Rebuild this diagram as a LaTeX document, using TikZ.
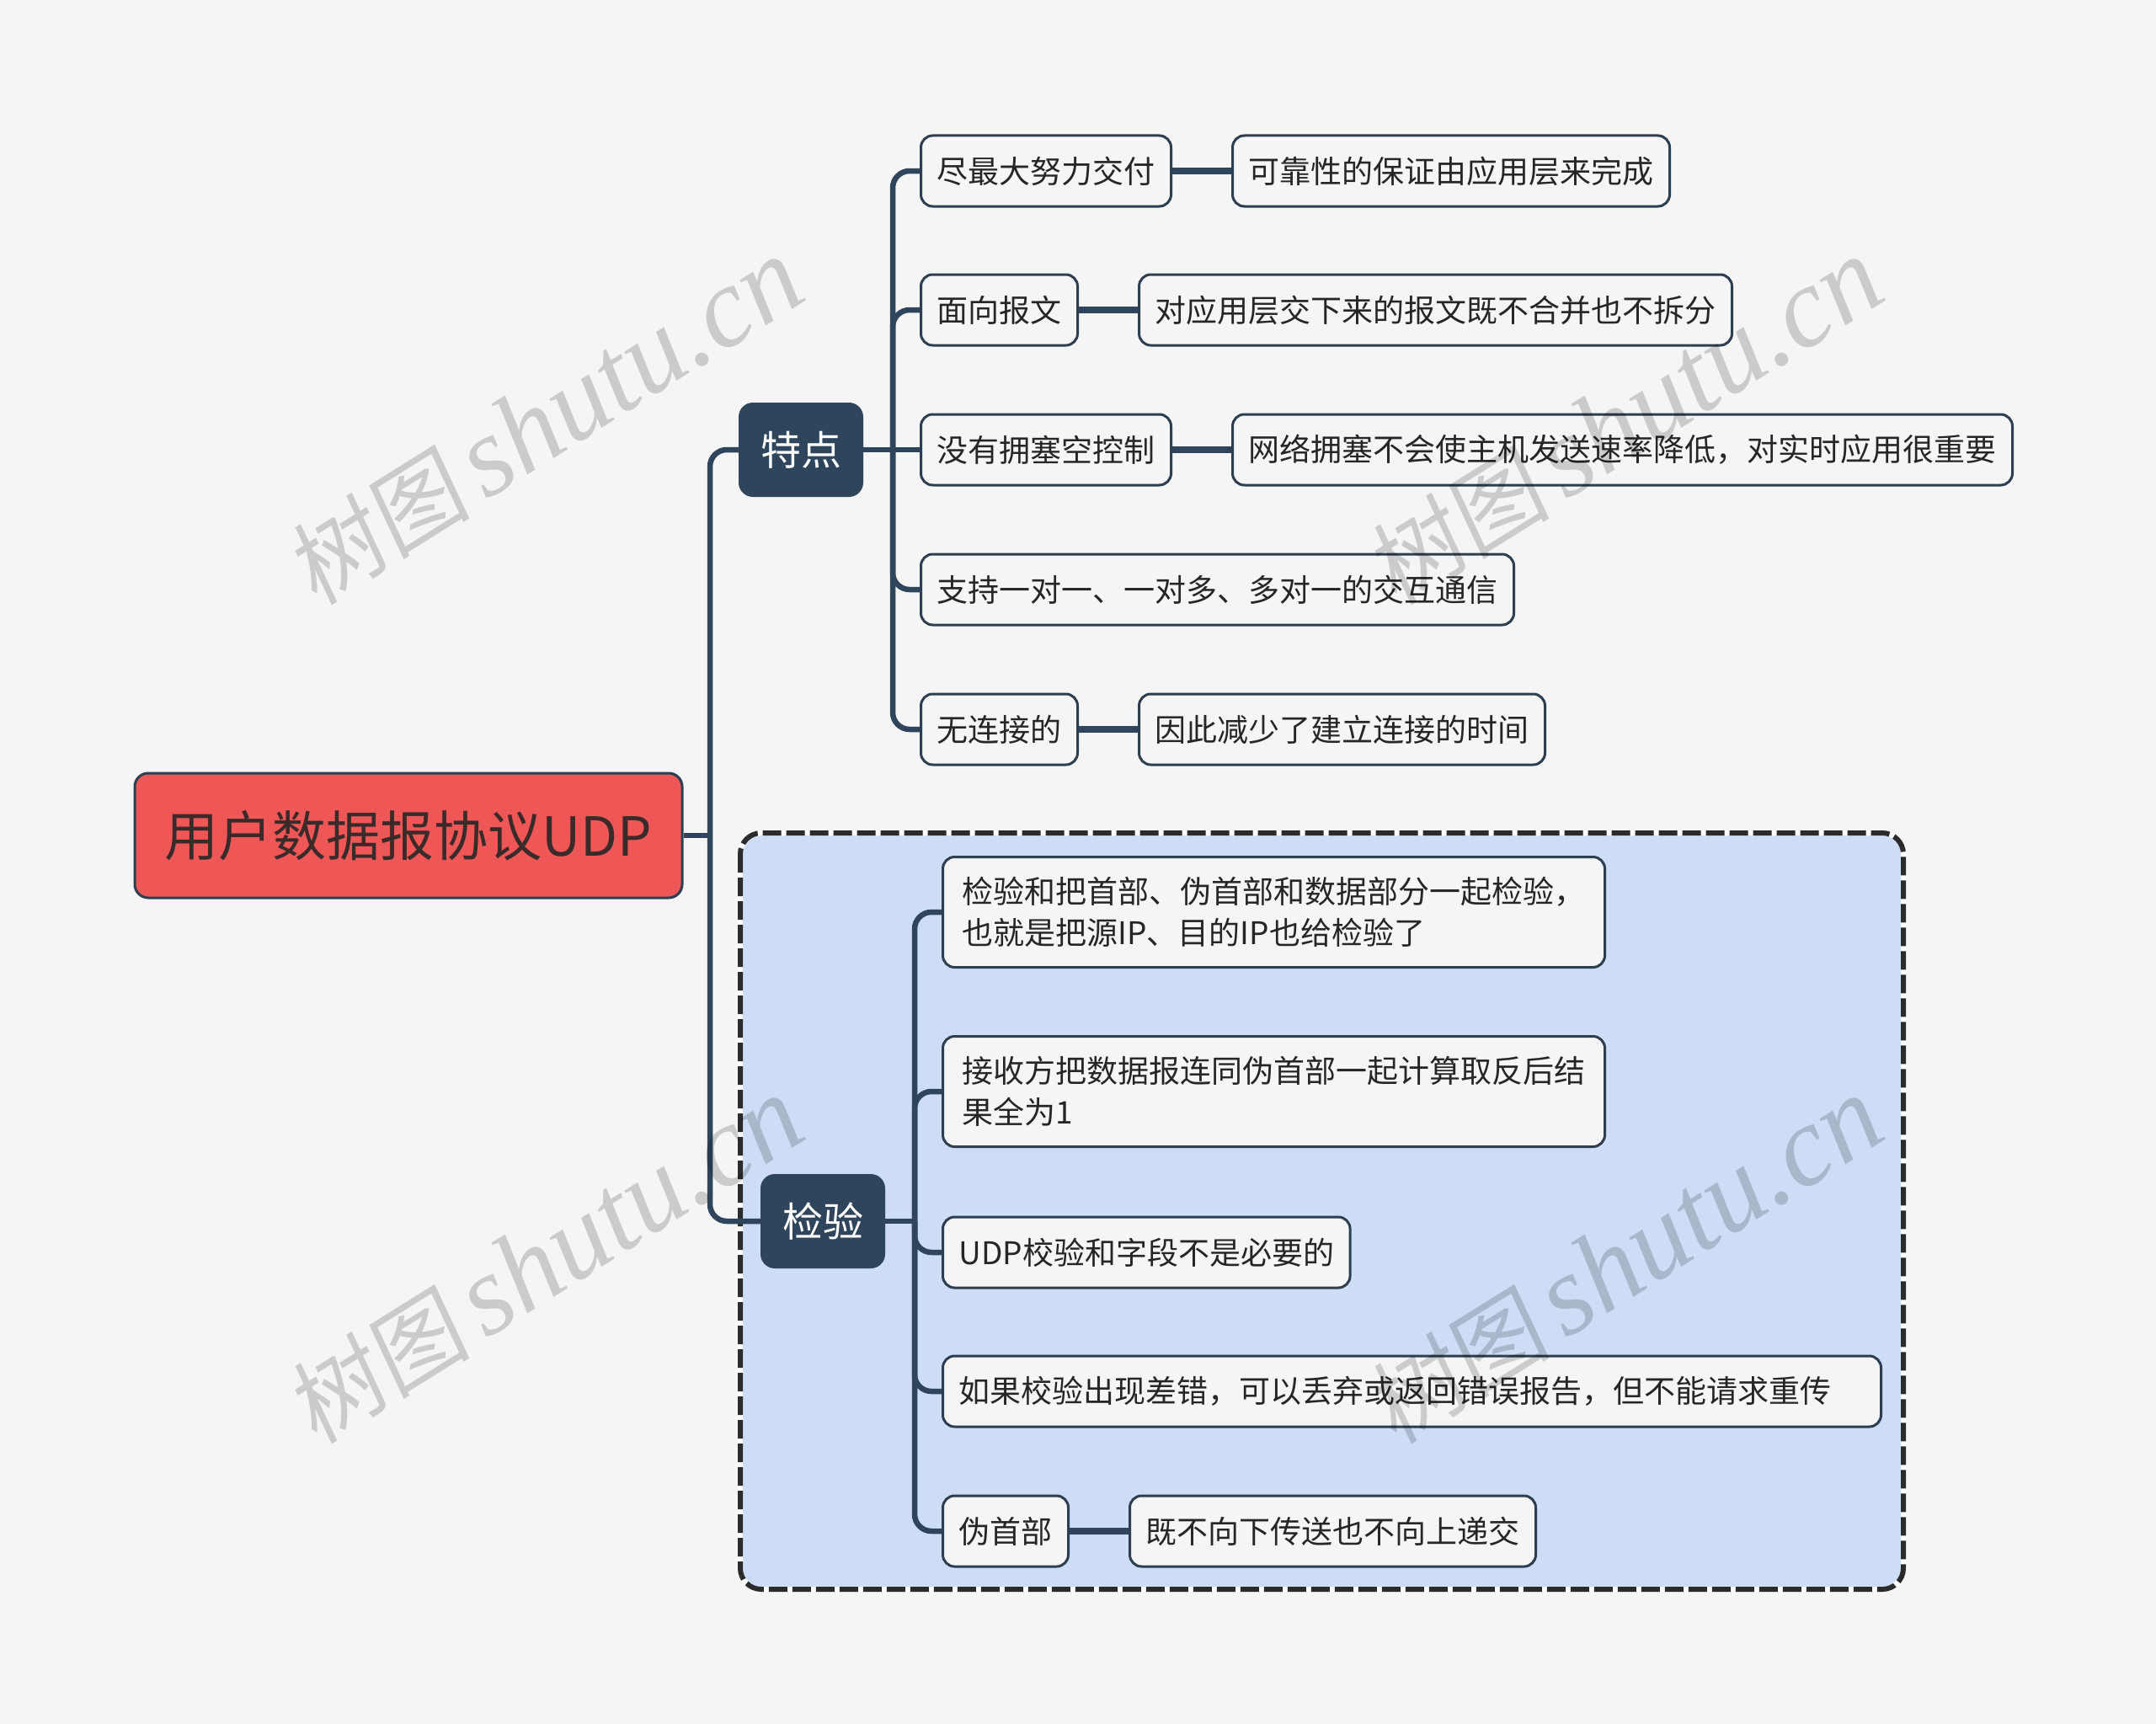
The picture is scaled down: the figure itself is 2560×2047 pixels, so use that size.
\documentclass[tikz,border=0pt]{standalone}
\usepackage{fontspec}
\setmainfont{Noto Sans CJK SC}
\newfontfamily\wmlatin{Liberation Serif}
\newfontfamily\wmcjk[FakeSlant=0.12]{Noto Sans CJK SC}
\usetikzlibrary{positioning}
\definecolor{bgc}{HTML}{F5F5F5}
\definecolor{navy}{HTML}{2F455C}
\definecolor{leafline}{HTML}{2C3E50}
\definecolor{rootfill}{HTML}{EF5656}
\definecolor{roottext}{HTML}{3A2A2A}
\definecolor{boxfill}{HTML}{CCDDF5}
\definecolor{dashc}{HTML}{2B2B2B}
\definecolor{txt}{HTML}{262626}
\begin{document}
\begin{tikzpicture}[x=1pt,y=-1pt,
  leaf/.style={draw=leafline, line width=3pt, fill=bgc, rounded corners=14pt,
    inner xsep=19pt, inner ysep=0pt, minimum height=84pt, text=txt,
    font=\fontsize{37}{49}\selectfont, anchor=west, align=left},
  leaftwo/.style={leaf, minimum height=131pt, minimum width=786pt},
  topic/.style={fill=navy, draw=navy, line width=2pt, rounded corners=16pt, text=white,
    font=\fontsize{48}{56}\selectfont, minimum width=146pt, minimum height=110pt, inner sep=0pt},
  rootnode/.style={fill=rootfill, draw=leafline, line width=3pt, rounded corners=16pt,
    text=roottext, font=\fontsize{64}{72}\selectfont, minimum width=650pt,
    minimum height=148pt, inner sep=0pt},
  conn/.style={draw=navy, line width=6.5pt, rounded corners=20pt},
  link/.style={draw=navy, line width=8pt},
  wm/.style={text=black, opacity=0.17, rotate=32, anchor=base, inner sep=0pt}
]
\useasboundingbox (0,0) rectangle (2560,2047);
\fill[bgc] (0,0) rectangle (2560,2047);

% group box
\draw[white, line width=6pt, fill=boxfill, rounded corners=25pt] (879,989) rectangle (2260,1887);
\draw[dashc, line width=6pt, dash pattern=on 22pt off 6pt, rounded corners=25pt] (879,989) rectangle (2260,1887);

% root and topics
\node[rootnode] (root) at (485,992) {用户数据报协议UDP};
\node[topic] (t1) at (951,534) {特点};
\node[topic] (t2) at (977,1450) {检验};

% features
\node[leaf] (a1) at (1092,203) {尽最大努力交付};
\node[leaf, right=70pt of a1] (a1b) {可靠性的保证由应用层来完成};
\node[leaf] (a2) at (1092,368) {面向报文};
\node[leaf, right=70pt of a2] (a2b) {对应用层交下来的报文既不合并也不拆分};
\node[leaf] (a3) at (1092,534) {没有拥塞空控制};
\node[leaf, right=70pt of a3] (a3b) {网络拥塞不会使主机发送速率降低，对实时应用很重要};
\node[leaf] (a4) at (1092,700) {支持一对一、一对多、多对一的交互通信};
\node[leaf] (a5) at (1092,866) {无连接的};
\node[leaf, right=70pt of a5] (a5b) {因此减少了建立连接的时间};

% checks
\node[leaftwo] (b1) at (1118,1083) {检验和把首部、伪首部和数据部分一起检验，\\也就是把源IP、目的IP也给检验了};
\node[leaftwo] (b2) at (1118,1296) {接收方把数据报连同伪首部一起计算取反后结\\果全为1};
\node[leaf] (b3) at (1118,1487) {UDP校验和字段不是必要的};
\node[leaf, text width=1076pt] (b4) at (1118,1652) {如果校验出现差错，可以丢弃或返回错误报告，但不能请求重传};
\node[leaf] (b5) at (1118,1818) {伪首部};
\node[leaf, right=70pt of b5] (b5b) {既不向下传送也不向上递交};

% connectors
\coordinate (rj) at (843,992);
\draw[conn] (root.east) -- (rj);
\draw[conn] (rj) |- (t1.west);
\draw[conn] (rj) |- (t2.west);

\coordinate (j1) at (1060,534);
\draw[conn] (t1.east) -- (a3.west);
\foreach \n in {a1,a2,a4,a5} \draw[conn] (j1) |- (\n.west);

\coordinate (j2) at (1086,1450);
\draw[conn] (t2.east) -- (j2);
\foreach \n in {b1,b2,b3,b4,b5} \draw[conn] (j2) |- (\n.west);

\draw[link] (a1) -- (a1b);
\draw[link] (a2) -- (a2b);
\draw[link] (a3) -- (a3b);
\draw[link] (a5) -- (a5b);
\draw[link] (b5) -- (b5b);

% watermarks
\foreach \dx/\dy [count=\i] in {0/0,1282/0,0/996,1282/996}
  \node[wm] (wm\i) at (669+\dx,537+\dy) {{\wmcjk\fontsize{110}{120}\selectfont 树图}\hspace{18pt}{\wmlatin\itshape\fontsize{135}{140}\selectfont shutu.cn}};
\end{tikzpicture}
\end{document}
